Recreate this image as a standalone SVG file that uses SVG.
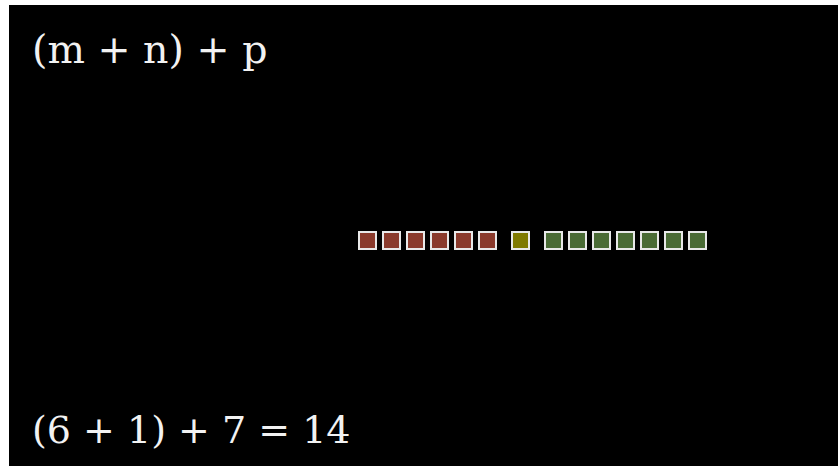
<svg xmlns="http://www.w3.org/2000/svg" width="838" height="466" viewBox="0 0 838 466">
<style>
.t{font-family:"DejaVu Serif",serif;font-size:38px;fill:#f2f2f2}
.sq{stroke:#e8e8e8;stroke-width:2}
.r{fill:#8a3a2c}
.y{fill:#7f7a00}
.g{fill:#4a6b35}
</style>
<rect x="0" y="0" width="838" height="466" fill="#ffffff"/>
<rect x="9" y="5" width="829" height="461" fill="#000000"/>
<g id="formula"><text class="t" x="32" y="63" style="font-size:39.5px">(m + n) + p</text></g>
<g id="m">
<rect class="sq r" x="359" y="232" width="17" height="17"/>
<rect class="sq r" x="383" y="232" width="17" height="17"/>
<rect class="sq r" x="407" y="232" width="17" height="17"/>
<rect class="sq r" x="431" y="232" width="17" height="17"/>
<rect class="sq r" x="455" y="232" width="17" height="17"/>
<rect class="sq r" x="479" y="232" width="17" height="17"/>
</g>
<g id="n">
<rect class="sq y" x="512" y="232" width="17" height="17"/>
</g>
<g id="p">
<rect class="sq g" x="545" y="232" width="17" height="17"/>
<rect class="sq g" x="569" y="232" width="17" height="17"/>
<rect class="sq g" x="593" y="232" width="17" height="17"/>
<rect class="sq g" x="617" y="232" width="17" height="17"/>
<rect class="sq g" x="641" y="232" width="17" height="17"/>
<rect class="sq g" x="665" y="232" width="17" height="17"/>
<rect class="sq g" x="689" y="232" width="17" height="17"/>
</g>
<g id="connectors"/>
<g id="result"><text class="t" x="32" y="443">(6 + 1) + 7 = 14</text></g>
</svg>
